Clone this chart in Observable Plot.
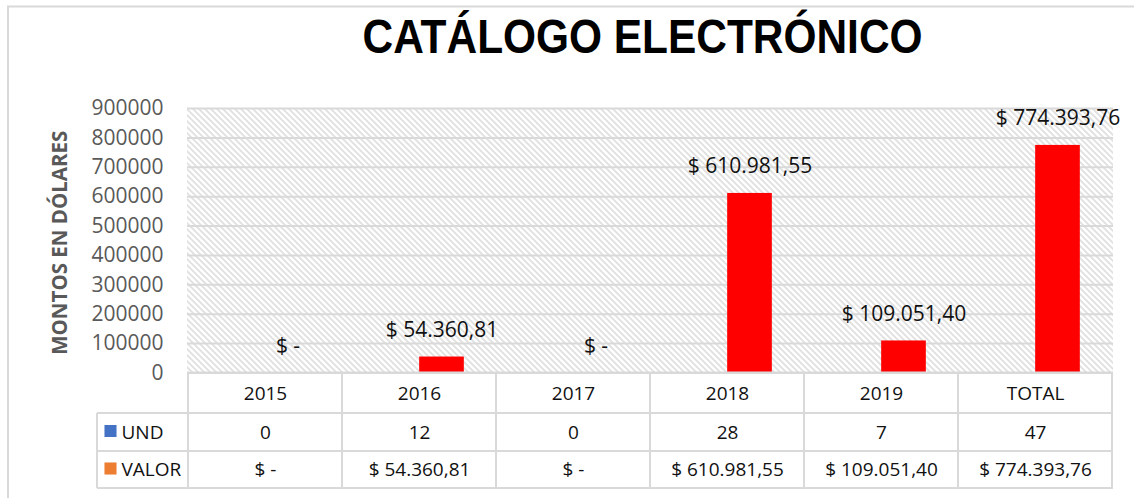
<!DOCTYPE html>
<html>
<head>
<meta charset="utf-8">
<script src="https://cdn.jsdelivr.net/npm/d3@7"></script>
<script src="https://cdn.jsdelivr.net/npm/@observablehq/plot@0.6"></script>
<style>
  html, body { margin: 0; padding: 0; background: #ffffff; }
  #chart svg { display: block; }
</style>
</head>
<body>
<div id="chart"></div>
<script>
// ---------- data ----------
const categories = ["2015", "2016", "2017", "2018", "2019", "TOTAL"];
const undValues = [0, 12, 0, 28, 7, 47];
const valorValues = [0, 54360.81, 0, 610981.55, 109051.40, 774393.76];
const yTicks = [0, 100000, 200000, 300000, 400000, 500000, 600000, 700000, 800000, 900000];
const seriesNames = ["UND", "VALOR"];
const seriesColors = ["#4472C4", "#ED7D31"];
const barColor = "#FF0000";
const chartTitle = "CATÁLOGO ELECTRÓNICO";
const yTitle = "MONTOS EN DÓLARES";

// ---------- formatting ----------
const locale = d3.formatLocale({decimal: ",", thousands: ".", grouping: [3], currency: ["$ ", ""]});
const fmtMoney = locale.format("$,.2f");
const money = v => v === 0 ? "$ -" : fmtMoney(v);

const data = categories.map((c, i) => ({cat: c, und: undValues[i], valor: valorValues[i]}));
const legend = seriesNames.map((s, i) => ({name: s, color: seriesColors[i]}));

// ---------- layout constants ----------
const W = 1134, H = 498;
const mL = 187, mR = 21, mT = 108, mB = 125.5;
const gridColor = "#d9d9d9";
const textColor = "#111111";
const axisColor = "#595959";
const barW = 45;
const rowMid = [20.5, 59.5, 97];          // table row centres, below the frame bottom
const rowEdge = [0, 40.5, 78.5, 115.5];   // table row borders, below the frame bottom
const legendLeft = 97;

// pattern defs + hatched plot background + chart border
function background(index, scales, values, dims) {
  const {width, height, marginLeft, marginRight, marginTop, marginBottom} = dims;
  const g = d3.create("svg:g");
  const defs = g.append("defs");
  const p = defs.append("pattern")
    .attr("id", "hatch")
    .attr("patternUnits", "userSpaceOnUse")
    .attr("width", 6).attr("height", 6);
  p.append("rect").attr("width", 6).attr("height", 6).attr("fill", "#ffffff");
  p.append("path")
    .attr("d", "M-1,-1L7,7M-1,5L1,7M5,-1L7,1")
    .attr("stroke", "#e0e0e0").attr("stroke-width", 1.8).attr("fill", "none");
  g.append("rect")
    .attr("x", marginLeft).attr("y", marginTop)
    .attr("width", width - marginLeft - marginRight)
    .attr("height", height - marginTop - marginBottom)
    .attr("fill", "url(#hatch)");
  g.append("path")
    .attr("d", `M8,${height}V6.5H${width}`)
    .attr("stroke", gridColor).attr("stroke-width", 2).attr("fill", "none");
  return g.node();
}

// data table grid lines drawn from the x band scale
function tableGrid(index, scales, values, dims) {
  const {width, height, marginLeft, marginRight, marginBottom} = dims;
  const x = scales.x;
  const left = marginLeft, right = width - marginRight, bottom = height - marginBottom;
  const g = d3.create("svg:g")
    .attr("stroke", gridColor).attr("stroke-width", 2).attr("fill", "none");
  const Y = rowEdge.map(e => bottom + e);
  g.append("path").attr("d", `M${left},${Y[0]}H${right}`);
  for (let k = 1; k < Y.length; ++k) g.append("path").attr("d", `M${legendLeft},${Y[k]}H${right}`);
  g.append("path").attr("d", `M${legendLeft},${Y[1]}V${Y[3]}`);
  const xs = categories.map(c => x(c));
  const bw = x.bandwidth ? x.bandwidth() : (right - left) / categories.length;
  xs.push(xs[xs.length - 1] + bw);
  for (const xv of xs) g.append("path").attr("d", `M${xv},${Y[0]}V${Y[3]}`);
  return g.node();
}

const bandW = (W - mL - mR) / categories.length;
const inset = (bandW - barW) / 2;
const tableText = {frameAnchor: "bottom", lineAnchor: "middle", textAnchor: "middle", fontSize: 19, fill: textColor};

const chart = Plot.plot({
  width: W,
  height: H,
  marginLeft: mL,
  marginRight: mR,
  marginTop: mT,
  marginBottom: mB,
  style: {fontFamily: "'Open Sans', sans-serif", fontSize: "19px", color: axisColor, background: "#ffffff", overflow: "visible"},
  x: {domain: categories, padding: 0, axis: null},
  y: {domain: [0, 900000], axis: null},
  marks: [
    background,
    Plot.ruleY(yTicks, {y: d => d, stroke: gridColor, strokeWidth: 2}),
    // tick labels
    Plot.text(yTicks, {y: d => d, text: d => String(d), frameAnchor: "left", textAnchor: "end", lineAnchor: "middle", dx: -24, fontSize: 21, fill: axisColor}),
    // y title
    Plot.text([yTitle], {frameAnchor: "left", textAnchor: "middle", lineAnchor: "middle", rotate: -90, dx: -127, dy: 2, fontSize: 20.5, fontWeight: "bold", fill: axisColor}),
    // series bars
    Plot.barY(data, {x: "cat", y: "und", fill: seriesColors[0], insetLeft: inset, insetRight: inset, dx: -barW / 2}),
    Plot.barY(data, {x: "cat", y: "valor", fill: barColor, insetLeft: inset, insetRight: inset, dx: barW / 2}),
    // data labels
    Plot.text(data, {x: "cat", y: "valor", text: d => money(d.valor), dx: barW / 2, dy: -27, lineAnchor: "middle", fontSize: 21, fill: textColor}),
    // table grid
    tableGrid,
    // table texts
    Plot.text(data, {x: "cat", text: "cat", dy: rowMid[0], ...tableText}),
    Plot.text(data, {x: "cat", text: d => String(d.und), dy: rowMid[1], ...tableText}),
    Plot.text(data, {x: "cat", text: d => money(d.valor), dy: rowMid[2], ...tableText}),
    // legend keys in the table
    ...legend.map((l, i) => Plot.dot([l], {frameAnchor: "bottom-left", dx: legendLeft + 13 - mL, dy: rowMid[i + 1] - 1.5, symbol: "square", r: 6.8, fill: l.color})),
    ...legend.map((l, i) => Plot.text([l], {frameAnchor: "bottom-left", text: "name", textAnchor: "start", lineAnchor: "middle", dx: 121 - mL, dy: rowMid[i + 1], fontSize: 19, fill: textColor})),
    // title
    Plot.text([chartTitle], {frameAnchor: "top", textAnchor: "middle", lineAnchor: "middle", dx: -8, dy: -70.5, fontSize: 48, fontWeight: "bold", fontFamily: "'Liberation Sans', Arial, sans-serif", fill: "#000000"})
  ]
});

// condense the title to the reference's narrow width
const titleNode = Array.from(chart.querySelectorAll("text")).find(t => t.textContent === chartTitle);
if (titleNode) {
  titleNode.setAttribute("textLength", 560);
  titleNode.setAttribute("lengthAdjust", "spacingAndGlyphs");
}

document.getElementById("chart").appendChild(chart);
</script>
</body>
</html>
